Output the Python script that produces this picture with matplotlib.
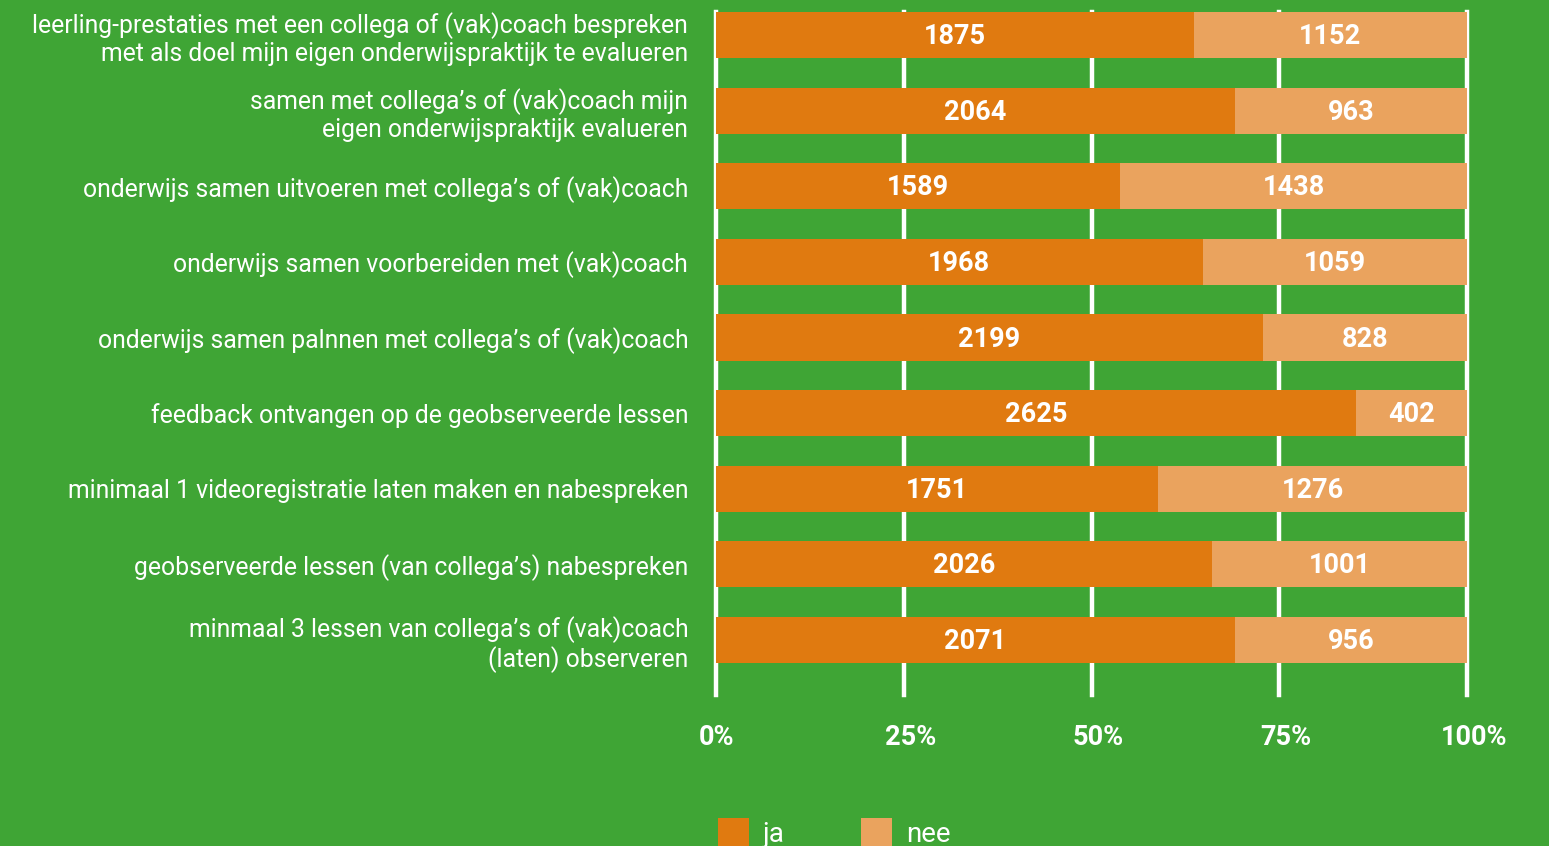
import numpy as np
import matplotlib.pyplot as plt
import matplotlib.transforms as mtransforms
from matplotlib.patches import Patch

plt.rcParams['font.family'] = ['Roboto', 'DejaVu Sans']

categories = [
    "leerling-prestaties met een collega of (vak)coach bespreken\nmet als doel mijn eigen onderwijspraktijk te evalueren",
    "samen met collega’s of (vak)coach mijn\neigen onderwijspraktijk evalueren",
    "onderwijs samen uitvoeren met collega’s of (vak)coach",
    "onderwijs samen voorbereiden met (vak)coach",
    "onderwijs samen palnnen met collega’s of (vak)coach",
    "feedback ontvangen op de geobserveerde lessen",
    "minimaal 1 videoregistratie laten maken en nabespreken",
    "geobserveerde lessen (van collega’s) nabespreken",
    "minmaal 3 lessen van collega’s of (vak)coach\n(laten) observeren",
]
ja = [1875, 2064, 1589, 1968, 2199, 2625, 1751, 2026, 2071]
nee = [1152, 963, 1438, 1059, 828, 402, 1276, 1001, 956]
# share of "ja" in % as drawn in the original bars
ja_share = [63.6, 69.1, 53.8, 64.8, 72.8, 85.2, 58.9, 66.0, 69.1]
xticks = [0, 25, 50, 75, 100]
xticklabels = ["0%", "25%", "50%", "75%", "100%"]

bg = "#3FA535"
c_ja = "#E07A10"
c_nee = "#EAA35E"

ja_pct = np.array(ja_share)
nee_pct = 100 - ja_pct
y = np.arange(len(categories))

fig = plt.figure(figsize=(15.49, 8.46), dpi=100, facecolor=bg)
ax = fig.add_axes([716 / 1549, 1 - 695 / 846, 751 / 1549, 683 / 846])
ax.set_facecolor(bg)

for x in xticks:
    ax.axvline(x, color="white", lw=3.2, zorder=0, clip_on=False)

h = 0.61
ax.barh(y, ja_pct, height=h, color=c_ja, zorder=2)
ax.barh(y, nee_pct, left=ja_pct, height=h, color=c_nee, zorder=2)

for i in range(len(y)):
    ax.text(ja_pct[i] / 2, y[i] + 0.02, str(ja[i]), ha="center", va="center",
            color="white", fontsize=19.5, fontweight="bold", zorder=3)
    ax.text(ja_pct[i] + nee_pct[i] / 2, y[i] + 0.02, str(nee[i]), ha="center", va="center",
            color="white", fontsize=19.5, fontweight="bold", zorder=3)

ax.set_xlim(0, 100)
ax.set_ylim(len(y) - 1 + 0.727, -0.305)
ax.set_xticks(xticks)
ax.set_xticklabels(xticklabels, color="white", fontsize=19.5, fontweight="bold")
ax.set_yticks(y)
ax.set_yticklabels(categories, color="white", fontsize=17.8, linespacing=1.17)
ax.tick_params(axis="x", length=0, pad=21)
ax.tick_params(axis="y", length=0, pad=20)
for s in ax.spines.values():
    s.set_visible(False)

# the original labels sit a bit to the right of their gridlines
shift = mtransforms.ScaledTranslation(0.07, 0, fig.dpi_scale_trans)
for lab in ax.get_xticklabels()[1:]:
    lab.set_transform(lab.get_transform() + shift)

handles = [Patch(facecolor=c_ja, label="ja"), Patch(facecolor=c_nee, label="nee")]
fig.legend(handles=handles, loc="upper left", bbox_to_anchor=(693 / 1549, 1 - 793 / 846),
           ncol=2, frameon=False, fontsize=20, labelcolor="white",
           handlelength=1.12, handleheight=1.3, handletextpad=0.5, columnspacing=2.75)

fig.savefig("out.png", dpi=100, facecolor=bg)
